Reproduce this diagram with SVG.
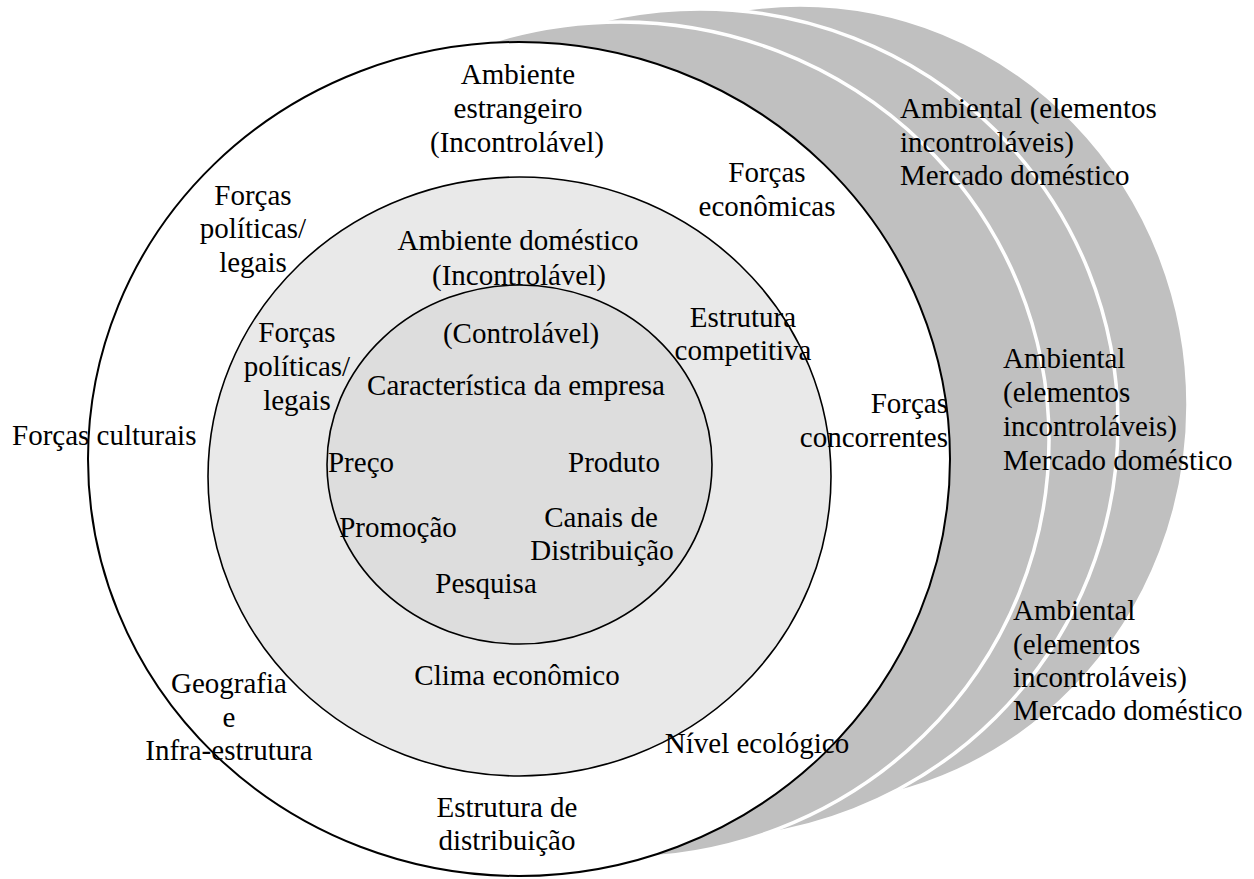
<svg xmlns="http://www.w3.org/2000/svg" width="1254" height="879" viewBox="0 0 1254 879">
<style>
.t{font-family:"Liberation Serif","Times New Roman","DejaVu Serif",serif;font-size:29px;fill:#000}
.c{text-anchor:middle}
.band{fill:#c0c0c0;stroke:#fff;stroke-width:3.5}
.ring{stroke:#000;stroke-width:1.6}
</style>
<rect width="1254" height="879" fill="#fff"/>
<g id="mercados-domesticos">
<ellipse class="band" cx="800" cy="405" rx="388" ry="400"/>
<ellipse class="band" cx="700" cy="424" rx="418" ry="415"/>
<ellipse class="band" cx="621" cy="440" rx="428" ry="418"/>
<text class="t" x="900" y="118">Ambiental (elementos</text>
<text class="t" x="900" y="152">incontroláveis)</text>
<text class="t" x="900" y="185">Mercado doméstico</text>
<text class="t" x="1003" y="368">Ambiental</text>
<text class="t" x="1003" y="402">(elementos</text>
<text class="t" x="1003" y="436">incontroláveis)</text>
<text class="t" x="1003" y="470">Mercado doméstico</text>
<text class="t" x="1013" y="620">Ambiental</text>
<text class="t" x="1013" y="654">(elementos</text>
<text class="t" x="1013" y="687">incontroláveis)</text>
<text class="t" x="1013" y="720">Mercado doméstico</text>
</g>
<g id="ambiente-estrangeiro">
<ellipse cx="519" cy="459" rx="431" ry="417" fill="#fff" stroke="#000" stroke-width="2"/>
</g>
<g id="ambiente-domestico">
<ellipse class="ring" cx="519.5" cy="476.5" rx="311.5" ry="299.5" fill="#e9e9e9"/>
</g>
<g id="empresa">
<ellipse class="ring" cx="519.5" cy="464.5" rx="192.5" ry="179.5" fill="#dddddd"/>
</g>
<g id="textos-estrangeiro">
<text class="t c" x="518" y="84">Ambiente</text>
<text class="t c" x="518" y="118">estrangeiro</text>
<text class="t c" x="517" y="152">(Incontrolável)</text>
<text class="t c" x="767" y="182">Forças</text>
<text class="t c" x="767" y="216">econômicas</text>
<text class="t c" x="253" y="205">Forças</text>
<text class="t c" x="253" y="238">políticas/</text>
<text class="t c" x="253" y="272">legais</text>
<text class="t" x="12" y="445">Forças culturais</text>
<text class="t" x="948" y="413" text-anchor="end">Forças</text>
<text class="t" x="948" y="447" text-anchor="end">concorrentes</text>
<text class="t c" x="229" y="693">Geografia</text>
<text class="t c" x="229" y="727">e</text>
<text class="t c" x="229" y="760">Infra-estrutura</text>
<text class="t c" x="757" y="753">Nível ecológico</text>
<text class="t c" x="507" y="817">Estrutura de</text>
<text class="t c" x="507" y="850">distribuição</text>
</g>
<g id="textos-domestico">
<text class="t c" x="518" y="250">Ambiente doméstico</text>
<text class="t c" x="519" y="285">(Incontrolável)</text>
<text class="t c" x="297" y="342">Forças</text>
<text class="t c" x="297" y="376">políticas/</text>
<text class="t c" x="297" y="410">legais</text>
<text class="t c" x="743" y="327">Estrutura</text>
<text class="t c" x="743" y="360">competitiva</text>
<text class="t c" x="517" y="685">Clima econômico</text>
</g>
<g id="textos-empresa">
<text class="t c" x="521" y="343">(Controlável)</text>
<text class="t c" x="516" y="395">Característica da empresa</text>
<text class="t c" x="361" y="472">Preço</text>
<text class="t c" x="614" y="472">Produto</text>
<text class="t c" x="398" y="537">Promoção</text>
<text class="t c" x="601" y="527">Canais de</text>
<text class="t c" x="602" y="560">Distribuição</text>
<text class="t c" x="486" y="593">Pesquisa</text>
</g>
<g id="connectors"/>
</svg>
